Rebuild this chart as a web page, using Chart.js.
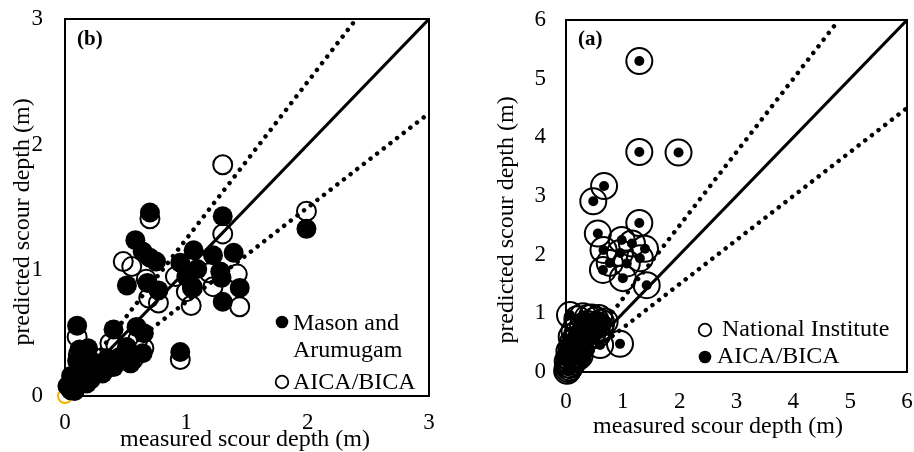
<!DOCTYPE html>
<html><head><meta charset="utf-8">
<script src="https://cdn.jsdelivr.net/npm/chart.js@4.4.0/dist/chart.umd.min.js"></script>
<style>
html,body{margin:0;padding:0;background:#fff;overflow:hidden}
#wrap{position:relative;width:914px;height:452px;background:#fff}
#c1{position:absolute;left:0;top:0}
#c2{position:absolute;left:460px;top:0}
</style></head><body>
<div id="wrap"><canvas id="c1" width="460" height="452"></canvas><canvas id="c2" width="454" height="452"></canvas></div>
<script>
// ---------- Panel (b) data ----------
const panelLabelB = "(b)";
const ticksB = [0, 1, 2, 3];
const masonX = [0.70,1.30,1.99,0.58,0.70,0.64,0.75,1.06,1.22,1.39,0.95,1.09,1.00,1.28,1.29,1.05,0.51,0.68,0.77,1.44,1.30,0.10,0.40,0.59,0.65,0.64,0.54,0.45,0.51,0.95,0.15,0.23,0.10,0.04,0.21,0.31,0.40,0.12,0.19,0.06,0.02,0.14,0.25,0.08,0.30,0.35,0.18,0.10,0.05];
const masonY = [1.46,1.43,1.33,1.24,1.10,1.15,1.07,1.16,1.12,1.14,1.06,1.01,0.95,0.99,0.94,0.87,0.88,0.90,0.84,0.86,0.75,0.56,0.53,0.55,0.50,0.34,0.26,0.31,0.39,0.35,0.34,0.27,0.18,0.07,0.13,0.18,0.23,0.37,0.38,0.12,0.08,0.22,0.19,0.04,0.24,0.30,0.10,0.28,0.16];
const aicaBX = [1.30,1.99,0.70,1.30,0.48,0.55,0.67,0.91,1.05,1.04,0.77,0.69,1.42,1.44,1.22,1.00,1.19,0.95,0.10,0.42,0.56,0.65,0.11,0.30,0.20,0.05,0.60,0.37];
const aicaBY = [1.84,1.47,1.41,1.29,1.07,1.03,0.93,0.95,0.86,0.72,0.74,0.78,0.97,0.71,0.87,0.83,0.98,0.29,0.47,0.40,0.29,0.38,0.33,0.30,0.20,0.05,0.45,0.42];
const originB = [[0, 0]];
const lineEqualB = [[0, 0], [3, 3]];
const lineUpperB = [[0, 0], [2.4, 3]];
const lineLowerB = [[0, 0], [3, 2.25]];
const legendB = ["Mason and", "Arumugam", "AICA/BICA"];

// ---------- Panel (a) data ----------
const panelLabelA = "(a)";
const ticksA = [0, 1, 2, 3, 4, 5, 6];
const nationalX = [1.29,1.29,1.98,0.67,0.48,1.29,0.56,0.66,0.98,1.16,1.39,0.95,1.30,1.07,0.77,0.65,1.00,1.42,0.95,0.60,
  0.07,0.30,0.45,0.58,0.68,0.20,0.38,0.52,0.62,
  0.02,0.04,0.06,0.08,0.10,0.12,0.05,0.03,0.07,0.10,0.14,0.18,0.06,0.10,0.15,0.20,0.25,0.22,0.16,0.20,0.24,0.12,0.18,0.25,0.30,0.28,0.20,0.35,0.40,0.45,0.50,0.55,0.60,0.38,0.30,0.48,0.15,0.10,0.35,0.45,0.55];
const nationalY = [5.30,3.75,3.74,3.17,2.91,2.54,2.36,2.08,2.25,2.19,2.10,2.03,1.94,1.85,1.86,1.74,1.60,1.48,0.48,0.46,
  0.97,0.95,0.93,0.92,0.86,0.90,0.92,0.88,0.84,
  0.02,0.05,0.08,0.12,0.15,0.18,0.12,0.18,0.25,0.28,0.30,0.32,0.35,0.40,0.42,0.45,0.40,0.35,0.22,0.25,0.28,0.50,0.55,0.55,0.50,0.62,0.65,0.68,0.72,0.75,0.78,0.80,0.76,0.82,0.78,0.70,0.70,0.60,0.58,0.62,0.64];
const aicaAX = [1.29,1.29,1.98,0.67,0.48,1.29,0.56,0.66,0.98,1.16,1.39,0.95,1.30,1.07,0.77,0.65,1.00,1.42,0.95,0.60,
  0.07,0.30,0.45,0.58,0.68,0.20,0.38,0.52,0.62,
  0.02,0.04,0.06,0.08,0.10,0.12,0.05,0.03,0.07,0.10,0.14,0.18,0.06,0.10,0.15,0.20,0.25,0.22,0.16,0.20,0.24,0.12,0.18,0.25,0.30,0.28,0.20,0.35,0.40,0.45,0.50,0.55,0.60,0.38,0.30,0.48,0.15,0.10,0.35,0.45,0.55];
const aicaAY = [5.30,3.75,3.74,3.17,2.91,2.54,2.36,2.08,2.25,2.19,2.10,2.03,1.94,1.85,1.86,1.74,1.60,1.48,0.48,0.46,
  0.97,0.95,0.93,0.92,0.86,0.90,0.92,0.88,0.84,
  0.02,0.05,0.08,0.12,0.15,0.18,0.12,0.18,0.25,0.28,0.30,0.32,0.35,0.40,0.42,0.45,0.40,0.35,0.22,0.25,0.28,0.50,0.55,0.55,0.50,0.62,0.65,0.68,0.72,0.75,0.78,0.80,0.76,0.82,0.78,0.70,0.70,0.60,0.58,0.62,0.64];
const lineEqualA = [[0, 0], [6, 6]];
const lineUpperA = [[0, 0], [4.8, 6]];
const lineLowerA = [[0, 0], [6, 4.5]];
const legendA = ["National Institute", "AICA/BICA"];

const xTitle = "measured scour depth (m)";
const yTitle = "predicted scour depth (m)";

// ---------- helpers ----------
const SERIF = '"Liberation Serif", "Times New Roman", Times, serif';
const pts = (xs, ys) => xs.map((x, i) => ({x, y: ys[i]}));
const pairs = arr => arr.map(p => ({x: p[0], y: p[1]}));

function lineDs(data, dotted, order) {
  return {
    type: 'line', data: pairs(data), showLine: true, pointRadius: 0, pointHoverRadius: 0,
    borderColor: '#000', borderWidth: dotted ? 4.5 : 3,
    borderDash: dotted ? [0.01, 8.4] : [], borderCapStyle: dotted ? 'round' : 'butt',
    fill: false, tension: 0, order: order
  };
}

function decorPlugin(cfg) {
  return {
    id: 'decor',
    afterDraw(chart) {
      const ctx = chart.ctx, a = chart.chartArea;
      ctx.save();
      ctx.strokeStyle = '#000'; ctx.lineWidth = 2;
      ctx.strokeRect(a.left, a.top, a.right - a.left, a.bottom - a.top);
      ctx.fillStyle = '#000';
      ctx.font = 'bold 21px ' + SERIF;
      ctx.textAlign = 'left'; ctx.textBaseline = 'middle';
      ctx.fillText(cfg.label, cfg.labelPos[0], cfg.labelPos[1]);
      ctx.font = '24px ' + SERIF;
      ctx.textAlign = 'center'; ctx.textBaseline = 'middle';
      ctx.fillText(xTitle, cfg.xTitlePos[0], cfg.xTitlePos[1]);
      ctx.save();
      ctx.translate(cfg.yTitlePos[0], cfg.yTitlePos[1]);
      ctx.rotate(-Math.PI / 2);
      ctx.fillText(yTitle, 0, 0);
      ctx.restore();
      ctx.textAlign = 'left'; ctx.textBaseline = 'alphabetic';
      cfg.legend.forEach(it => {
        if (it.marker) {
          ctx.beginPath();
          ctx.arc(it.marker[0], it.marker[1], 6.3, 0, Math.PI * 2);
          if (it.filled) { ctx.fillStyle = '#000'; ctx.fill(); }
          else { ctx.lineWidth = 1.8; ctx.strokeStyle = '#000'; ctx.stroke(); }
        }
        ctx.fillStyle = '#000';
        ctx.fillText(it.text, it.pos[0], it.pos[1]);
      });
      ctx.restore();
    }
  };
}

function zeroPad(s) { s.paddingTop = 0; s.paddingBottom = 0; s.paddingLeft = 0; s.paddingRight = 0; }

function scales(max, stepTicks, yW, xH, yPad, xPad) {
  const tickFont = {family: SERIF, size: 23};
  return {
    x: {type: 'linear', min: 0, max: max,
        afterBuildTicks: s => { s.ticks = stepTicks.map(v => ({value: v})); },
        ticks: {font: tickFont, color: '#000', padding: xPad, maxRotation: 0},
        grid: {display: false, drawTicks: false}, border: {display: false},
        afterFit: s => { s.height = xH; zeroPad(s); }},
    y: {type: 'linear', min: 0, max: max,
        afterBuildTicks: s => { s.ticks = stepTicks.map(v => ({value: v})); },
        ticks: {font: tickFont, color: '#000', padding: yPad},
        grid: {display: false, drawTicks: false}, border: {display: false},
        afterFit: s => { s.width = yW; zeroPad(s); }}
  };
}

const common = {
  responsive: false, animation: false, events: [],
  plugins: {legend: {display: false}, tooltip: {enabled: false}}
};

// ---------- Chart (b) ----------
new Chart(document.getElementById('c1'), {
  type: 'scatter',
  data: {datasets: [
    {label: 'Mason and Arumugam', data: pts(masonX, masonY), pointRadius: 10, pointBackgroundColor: '#000', pointBorderColor: '#000', pointBorderWidth: 0, clip: false, order: 1},
    {label: 'AICA/BICA', data: pts(aicaBX, aicaBY), pointRadius: 9.5, pointBackgroundColor: 'rgba(0,0,0,0)', pointBorderColor: '#000', pointBorderWidth: 2, clip: false, order: 2},
    {label: 'origin', data: pairs(originB), pointRadius: 7, pointBackgroundColor: 'rgba(0,0,0,0)', pointBorderColor: '#f0b400', pointBorderWidth: 2, clip: false, order: 6},
    lineDs(lineEqualB, false, 3), lineDs(lineUpperB, true, 4), lineDs(lineLowerB, true, 5)
  ]},
  options: Object.assign({}, common, {
    layout: {autoPadding: false, padding: {left: 0, right: 31, top: 19, bottom: 0}},
    scales: scales(3, ticksB, 65, 56, 22, 13)
  }),
  plugins: [decorPlugin({
    label: panelLabelB, labelPos: [77, 40],
    xTitlePos: [245, 440], yTitlePos: [23, 222],
    legend: [
      {text: legendB[0], pos: [293, 330], marker: [282, 322], filled: true},
      {text: legendB[1], pos: [293, 357]},
      {text: legendB[2], pos: [293, 389], marker: [282, 382], filled: false}
    ]
  })]
});

// ---------- Chart (a) ----------
new Chart(document.getElementById('c2'), {
  type: 'scatter',
  data: {datasets: [
    {label: 'AICA/BICA', data: pts(aicaAX, aicaAY), pointRadius: 5, pointBackgroundColor: '#000', pointBorderColor: '#000', pointBorderWidth: 0, clip: false, order: 1},
    {label: 'National Institute', data: pts(nationalX, nationalY), pointRadius: 13, pointBackgroundColor: 'rgba(0,0,0,0)', pointBorderColor: '#000', pointBorderWidth: 2, clip: false, order: 2},
    lineDs(lineEqualA, false, 3), lineDs(lineUpperA, true, 4), lineDs(lineLowerA, true, 5)
  ]},
  options: Object.assign({}, common, {
    layout: {autoPadding: false, padding: {left: 0, right: 7, top: 20, bottom: 0}},
    scales: scales(6, ticksA, 106, 80, 20, 16)
  }),
  plugins: [decorPlugin({
    label: panelLabelA, labelPos: [118, 40],
    xTitlePos: [258, 427], yTitlePos: [47, 220],
    legend: [
      {text: legendA[0], pos: [262, 336], marker: [245, 330], filled: false},
      {text: legendA[1], pos: [257, 363], marker: [245, 357], filled: true}
    ]
  })]
});
</script>
</body></html>
